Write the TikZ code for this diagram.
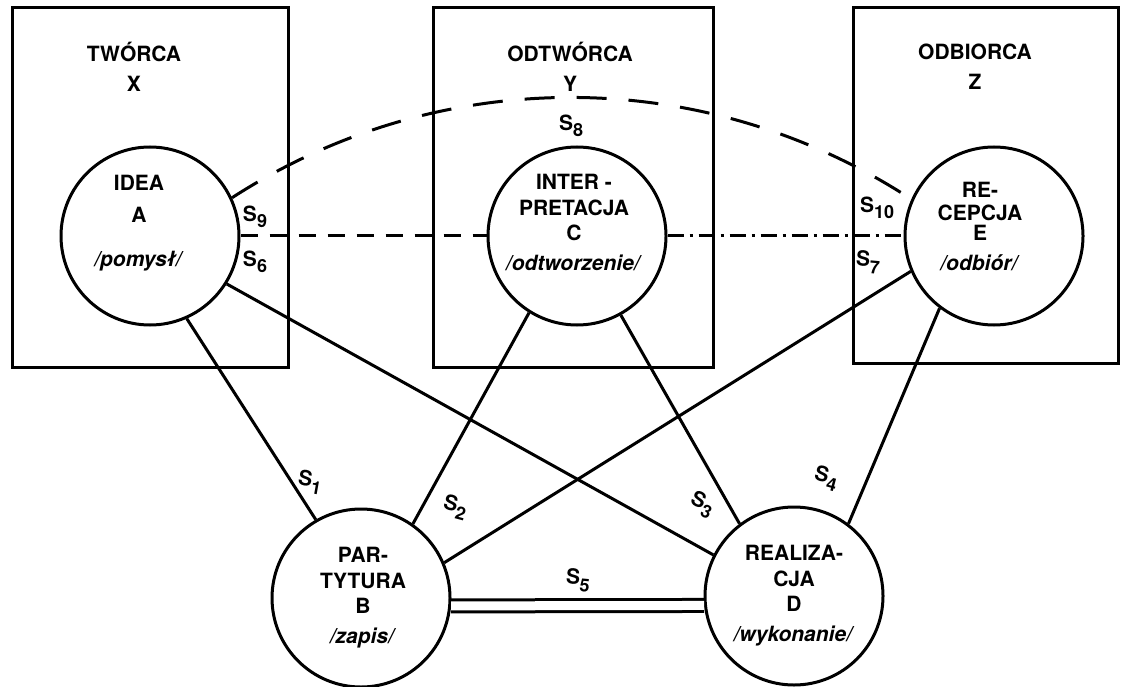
\documentclass[tikz,border=0pt]{standalone}
\usepackage{fontspec}
\setmainfont{TeX Gyre Heros}
\begin{document}
\begin{tikzpicture}[x=0.5pt, y=0.5pt, line width=1.5pt,
  stage/.style={circle, draw, minimum size=89pt, inner sep=0pt},
  caption/.style={font=\bfseries\fontsize{10.5}{15}\selectfont, align=center},
  inside/.style={font=\bfseries\fontsize{10.5}{12}\selectfont, align=center, inner sep=0pt},
  slab/.style={font=\bfseries\fontsize{10.5}{12}\selectfont, inner sep=0pt},
  arcdash/.style={dash pattern=on 15pt off 11pt},
  middash/.style={dash pattern=on 8.5pt off 6pt},
  dotdash/.style={dash pattern=on 8pt off 3pt on 1.5pt off 3pt}]
  \useasboundingbox (0,0) rectangle (1122,686);

  % Define the three boxes
  \draw (12,319) rectangle (288,678);
  \draw (433,319) rectangle (713,678);
  \draw (853,323) rectangle (1118,678);

  % Box captions
  \node[caption] (X) at (134,619) {TWÓRCA\\X};
  \node[caption] (Y) at (570,619) {ODTWÓRCA\\Y};
  \node[caption] (Z) at (975,619) {ODBIORCA\\Z};

  % Define the five stages
  \node[stage] (A) at (150,450) {};
  \node[stage] (C) at (577,450) {};
  \node[stage] (E) at (994,450) {};
  \node[stage] (B) at (361,88) {};
  \node[stage] (D) at (794,90) {};

  % Texts inside the stages
  \node[inside] (ideaA) at ([xshift=-5.5pt, yshift=6.25pt]A) {IDEA\\[4pt]A\\[10pt]\textit{/pomysł/}};
  \node[inside] (interC) at ([xshift=-1.5pt, yshift=6.75pt]C) {INTER -\\[1pt]PRETACJA\\[0.5pt]C\\[3pt]\textit{/odtworzenie/}};
  \node[inside] (recE) at ([xshift=-7pt, yshift=4.75pt]E) {RE-\\[-0.5pt]CEPCJA\\[-2pt]E\\[3pt]\textit{/odbiór/}};
  \node[inside] (partB) at ([xshift=1pt]B) {PAR-\\[1pt]TYTURA\\[0.5pt]B\\[3pt]\textit{/zapis/}};
  \node[inside] (realD) at (D) {REALIZA-\\[1pt]CJA\\[0.5pt]D\\[3pt]\textit{/wykonanie/}};

  % Connect the stages
  \foreach \u/\v in {A.-66/B.120, B.55/C.-122, B.23/E.-157,
                     A.-32/D.153, C.-61/D.127, E.-127/D.53}
  \draw (\u) -- (\v);
  \draw[double, double distance=4.5pt] (B.-5) -- (D.186);

  % Dashed links between the upper stages
  \draw[middash] (A.east) -- (C.west);
  \draw[dotdash] (C.east) -- (E.west);
  \draw[arcdash] (A.25) to[bend left=33, looseness=0.93] (E.156);

  % Label the links
  \foreach \n/\x/\y/\r in {1/310/204/-10, 2/455/179/-15, 3/702/181/-25, 4/826/208/-15,
                           5/578/106/-5, 6/255/424/0, 7/868/424/-5, 8/571/560/0,
                           9/255/469/0, 10/877/478/0}
  \node[slab, rotate=\r] (s\n) at (\x,\y) {S\raisebox{-3.3pt}{\fontsize{9}{9}\selectfont\n}};
\end{tikzpicture}
\end{document}
